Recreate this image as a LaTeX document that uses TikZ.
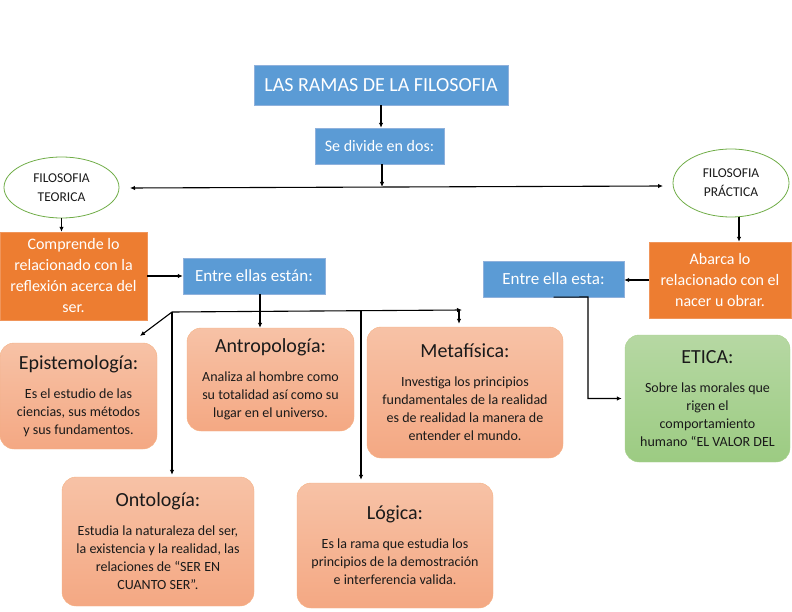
\documentclass[tikz,border=0pt]{standalone}
\usepackage{fontspec}
\setmainfont{Carlito}
\usetikzlibrary{arrows.meta,shapes.geometric}
\definecolor{azul}{HTML}{5B9BD5}
\definecolor{azulborde}{HTML}{8FB1DC}
\definecolor{naranja}{HTML}{ED7D31}
\definecolor{naranjaborde}{HTML}{F0955A}
\definecolor{verde}{HTML}{70AD47}
\definecolor{salmonarriba}{HTML}{F7C2A6}
\definecolor{salmonabajo}{HTML}{F4A883}
\definecolor{salmonborde}{HTML}{F4B183}
\definecolor{verdearriba}{HTML}{B6D8A3}
\definecolor{verdeabajo}{HTML}{9CCB82}
\definecolor{verdeborde}{HTML}{A9D18E}
\definecolor{texto}{HTML}{1A1A1A}
\tikzset{
  caja/.style={draw=azulborde, fill=azul, text=white, inner sep=0pt, align=center},
  naranjo/.style={draw=naranjaborde, fill=naranja, text=white, inner sep=0pt, align=center, font=\fontsize{16}{21}\selectfont},
  elipse/.style={ellipse, draw=verde, line width=0.8pt, fill=white, text=texto, inner sep=0pt, align=center, font=\fontsize{13.5}{19}\selectfont},
  rama/.style={rounded corners=14pt, draw=salmonborde, top color=salmonarriba, bottom color=salmonabajo, text=texto, inner sep=0pt, align=center, font=\fontsize{14}{18}\selectfont},
  flecha/.style={line width=1.1pt, -{Latex[length=5pt,width=4.5pt]}},
  flechas/.style={line width=1.1pt, {Latex[length=5pt,width=4.5pt]}-{Latex[length=5pt,width=4.5pt]}}
}
\newcommand{\titulo}[1]{{\fontsize{20}{24}\selectfont #1}}

\begin{document}
\begin{tikzpicture}[x=1pt,y=-1pt]
        \useasboundingbox (0,0) rectangle (792,612);
        \node (titulo) at (381,85) [caja, minimum width=254pt, minimum height=40pt, font=\fontsize{20}{24}\selectfont] {LAS RAMAS DE LA FILOSOFIA};
        \node (divide) at (379.5,146) [caja, minimum width=129pt, minimum height=36pt, font=\fontsize{16}{20}\selectfont] {Se divide en dos:};
        \node (teorica) at (61.5,187.5) [elipse, minimum width=115pt, minimum height=61pt] {FILOSOFIA\\TEORICA};
        \node (practica) at (731,183) [elipse, minimum width=116pt, minimum height=68pt] {FILOSOFIA\\PRÁCTICA};
        \node (comprende) at (73.5,276) [naranjo, minimum width=147pt, minimum height=88pt] {Comprende lo\\relacionado con la\\reflexión acerca del\\ser.};
        \node (ellas) at (254,276) [caja, minimum width=142pt, minimum height=36pt, font=\fontsize{17}{20}\selectfont] {Entre ellas están:};
        \node (abarca) at (720,280) [naranjo, minimum width=142pt, minimum height=76pt] {Abarca lo\\relacionado con el\\nacer u obrar.};
        \node (ella) at (553.5,279) [caja, minimum width=141pt, minimum height=36pt, font=\fontsize{17}{20}\selectfont] {Entre ella esta:};
        \node (episte) at (78.5,396) [rama, minimum width=157pt, minimum height=106pt] {\titulo{Epistemología:}\\[11pt]Es el estudio de las\\ciencias, sus métodos\\y sus fundamentos.};
        \node (antro) at (270.5,379.5) [rama, minimum width=167pt, minimum height=103pt] {\titulo{Antropología:}\\[11pt]Analiza al hombre como\\su totalidad así como su\\lugar en el universo.};
        \node (meta) at (465,392.5) [rama, minimum width=196pt, minimum height=131pt] {\titulo{Metafísica:}\\[11pt]Investiga los principios\\fundamentales de la realidad\\es de realidad la manera de\\entender el mundo.};
        \node (onto) at (158,541.5) [rama, minimum width=192pt, minimum height=129pt] {\titulo{Ontología:}\\[11pt]Estudia la naturaleza del ser,\\la existencia y la realidad, las\\relaciones de “SER EN\\CUANTO SER”.};
        \node (logica) at (395,545.5) [rama, minimum width=196pt, minimum height=125pt] {\titulo{Lógica:}\\[11pt]Es la rama que estudia los\\principios de la demostración\\e interferencia valida.};
        \node (etica) at (707.5,398.5) [rama, top color=verdearriba, bottom color=verdeabajo, draw=verdeborde, minimum width=165pt, minimum height=127pt] {\titulo{ETICA:}\\[11pt]Sobre las morales que\\rigen el\\comportamiento\\humano “EL VALOR DEL};
        \coordinate (cruce) at (382,187);
        \coordinate (izq) at (130,188);
        \coordinate (der) at (663,186);
        \coordinate (codo) at (588,297);
        \coordinate (b1) at (172,312);
        \coordinate (b2) at (462,310);
        \coordinate (b3) at (361,311);
        \coordinate (b4) at (459,310);
        \coordinate (epi) at (140,336);
        \draw[flecha] (titulo.south) -- (titulo.south |- divide.north);
        \draw[flecha] ([xshift=2.5pt]divide.south) -- (cruce);
        \draw[flechas] (izq) -- (der);
        \draw[flecha] (teorica.south) -- (teorica.south |- comprende.north);
        \draw[flecha] (comprende.east) -- (comprende.east -| ellas.west);
        \draw[flecha] ([xshift=8pt]practica.south) -- ([xshift=8pt]practica.south |- abarca.north);
        \draw[flecha] (abarca.west) -- (abarca.west -| ella.east);
        \draw[flecha, shorten >=3pt] (ella.south) -- (codo) |- (etica.west);
        \draw[flecha] ([xshift=6pt]ellas.south) -- ([xshift=6pt]ellas.south |- antro.north);
        \draw[flecha] (b1) -- (b2);
        \draw[flecha] (b1) -- (epi);
        \draw[flecha, shorten >=2pt] (b1) -- (b1 |- onto.north);
        \draw[flecha, shorten >=3pt] (b3) -- (b3 |- logica.north);
        \draw[flecha, shorten >=3pt] (b4) -- (b4 |- meta.north);
    \end{tikzpicture}
\end{document}
